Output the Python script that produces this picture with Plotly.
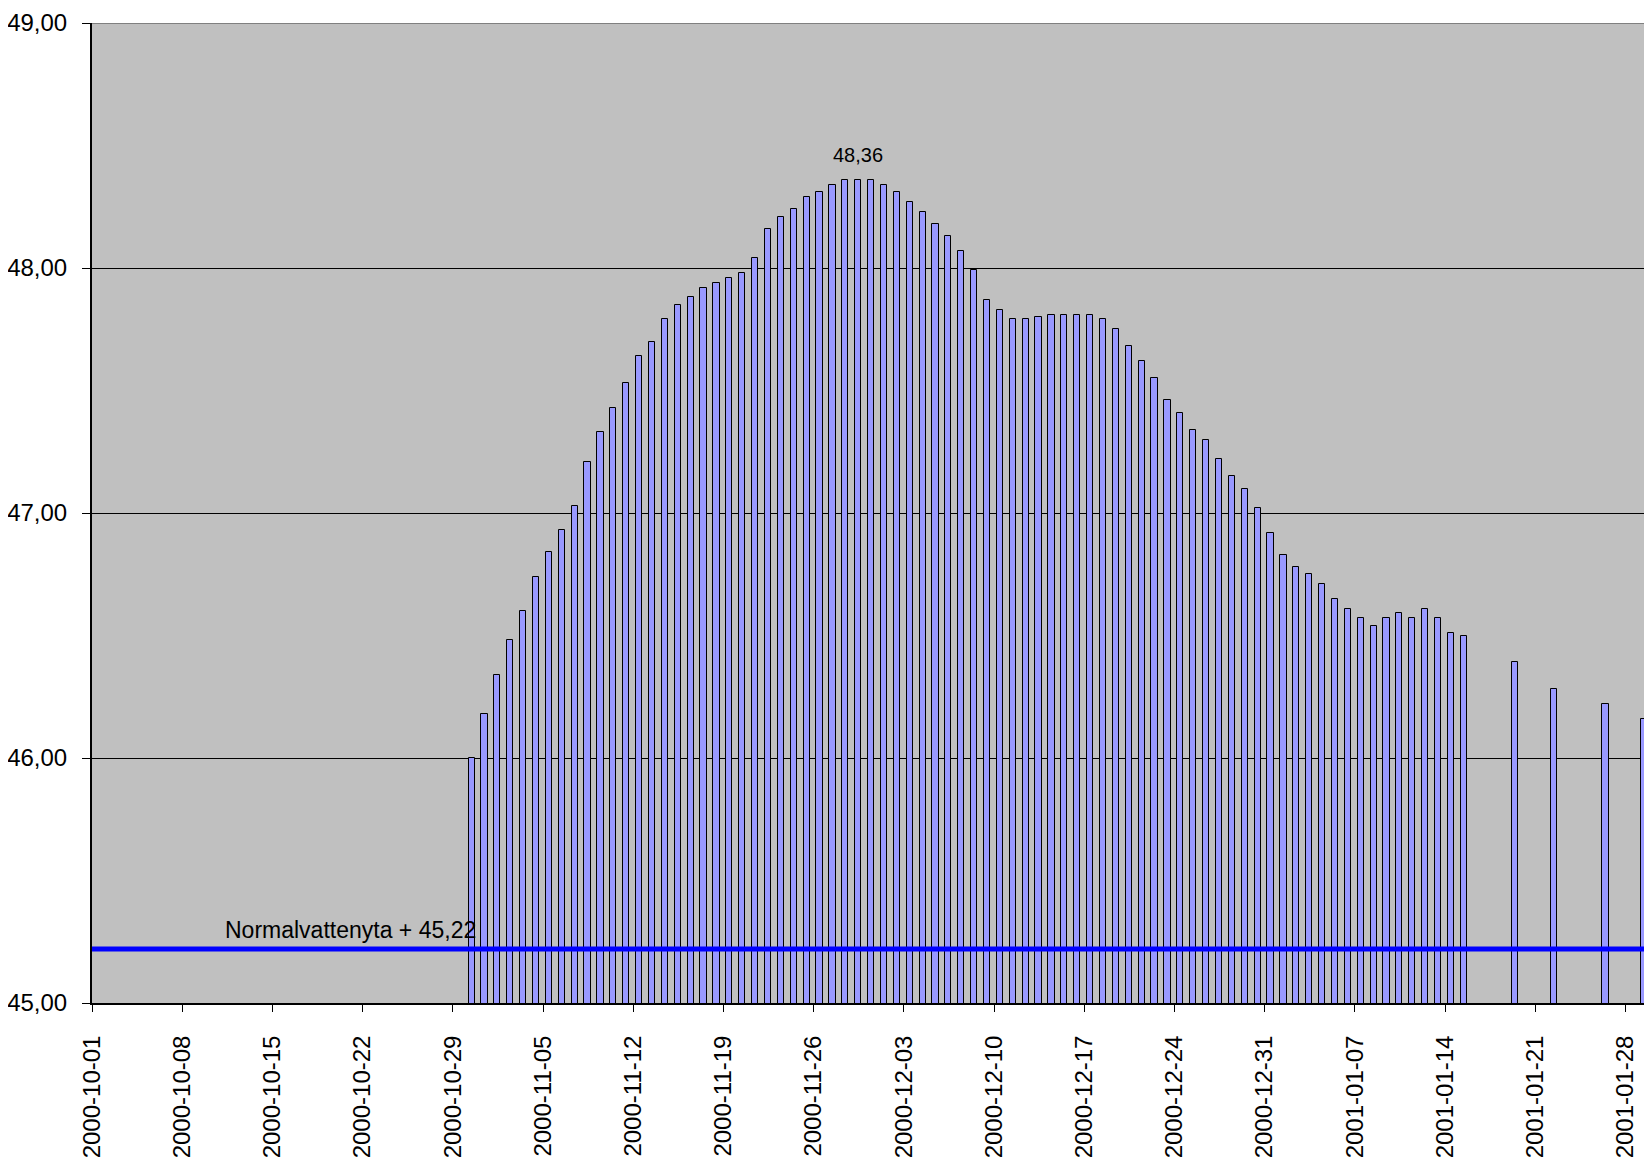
import plotly.graph_objects as go
import pandas as pd

# ---- data -----------------------------------------------------------------
DATES = [
    "2000-10-30", "2000-10-31",
    "2000-11-01", "2000-11-02", "2000-11-03", "2000-11-04", "2000-11-05",
    "2000-11-06", "2000-11-07", "2000-11-08", "2000-11-09", "2000-11-10",
    "2000-11-11", "2000-11-12", "2000-11-13", "2000-11-14", "2000-11-15",
    "2000-11-16", "2000-11-17", "2000-11-18", "2000-11-19", "2000-11-20",
    "2000-11-21", "2000-11-22", "2000-11-23", "2000-11-24", "2000-11-25",
    "2000-11-26", "2000-11-27", "2000-11-28", "2000-11-29", "2000-11-30",
    "2000-12-01", "2000-12-02", "2000-12-03", "2000-12-04", "2000-12-05",
    "2000-12-06", "2000-12-07", "2000-12-08", "2000-12-09", "2000-12-10",
    "2000-12-11", "2000-12-12", "2000-12-13", "2000-12-14", "2000-12-15",
    "2000-12-16", "2000-12-17", "2000-12-18", "2000-12-19", "2000-12-20",
    "2000-12-21", "2000-12-22", "2000-12-23", "2000-12-24", "2000-12-25",
    "2000-12-26", "2000-12-27", "2000-12-28", "2000-12-29", "2000-12-30",
    "2000-12-31",
    "2001-01-01", "2001-01-02", "2001-01-03", "2001-01-04", "2001-01-05",
    "2001-01-06", "2001-01-07", "2001-01-08", "2001-01-09", "2001-01-10",
    "2001-01-11", "2001-01-12", "2001-01-13", "2001-01-14", "2001-01-15",
    "2001-01-19", "2001-01-22", "2001-01-26", "2001-01-29",
]

LEVELS = [
    46.00, 46.18,
    46.34, 46.48, 46.60, 46.74, 46.84,
    46.93, 47.03, 47.21, 47.33, 47.43,
    47.53, 47.64, 47.70, 47.79, 47.85,
    47.88, 47.92, 47.94, 47.96, 47.98,
    48.04, 48.16, 48.21, 48.24, 48.29,
    48.31, 48.34, 48.36, 48.36, 48.36,
    48.34, 48.31, 48.27, 48.23, 48.18,
    48.13, 48.07, 47.99, 47.87, 47.83,
    47.79, 47.79, 47.80, 47.81, 47.81,
    47.81, 47.81, 47.79, 47.75, 47.68,
    47.62, 47.55, 47.46, 47.41, 47.34,
    47.30, 47.22, 47.15, 47.10, 47.02,
    46.92,
    46.83, 46.78, 46.75, 46.71, 46.65,
    46.61, 46.57, 46.54, 46.57, 46.59,
    46.57, 46.61, 46.57, 46.51, 46.50,
    46.39, 46.28, 46.22, 46.16,
]

TICK_DATES = [
    "2000-10-01", "2000-10-08", "2000-10-15", "2000-10-22", "2000-10-29",
    "2000-11-05", "2000-11-12", "2000-11-19", "2000-11-26", "2000-12-03",
    "2000-12-10", "2000-12-17", "2000-12-24", "2000-12-31", "2001-01-07",
    "2001-01-14", "2001-01-21", "2001-01-28",
]

Y_TICKS = [45, 46, 47, 48, 49]
Y_RANGE = [45, 49]
X_START = "2000-09-30 13:00"
X_END = "2001-01-29 14:30"

NORMAL_LEVEL = 45.22
NORMAL_LABEL = "Normalvattenyta + 45,22"
PEAK_DATE = "2000-11-29"
PEAK_LEVEL = 48.36
PEAK_LABEL = "48,36"

# ---- figure ---------------------------------------------------------------
DAY_MS = 86400000
tick_positions = [pd.Timestamp(d) - pd.Timedelta(hours=11) for d in TICK_DATES]

fig = go.Figure()
fig.add_trace(go.Bar(
    x=DATES,
    y=LEVELS,
    width=0.48 * DAY_MS,
    marker=dict(color="#9999FF", line=dict(color="#000000", width=1)),
    showlegend=False,
))

FONT = "Liberation Sans, Arial, sans-serif"

# the page body has an 8px margin, so the figure is sized to fit inside it
fig.update_layout(
    width=1644,
    height=1151,
    margin=dict(l=84, r=0, t=15, b=156, autoexpand=False),
    paper_bgcolor="#FFFFFF",
    plot_bgcolor="#C0C0C0",
    separators=",.",
    font=dict(family=FONT, size=23, color="#000000"),
    bargap=0,
    xaxis=dict(
        type="date",
        range=[X_START, X_END],
        tickmode="array",
        tickvals=tick_positions,
        ticktext=TICK_DATES,
        tickangle=-90,
        ticks="outside",
        ticklen=7,
        tickwidth=1,
        tickcolor="#000000",
        showgrid=False,
        showline=True,
        linecolor="#000000",
        linewidth=2,
        zeroline=False,
        automargin=False,
        tickfont=dict(family=FONT, size=24, color="#000000"),
        ticklabelstandoff=14,
    ),
    yaxis=dict(
        range=Y_RANGE,
        tickmode="array",
        tickvals=Y_TICKS,
        tickformat=".2f",
        ticks="outside",
        ticklen=8,
        tickwidth=1,
        tickcolor="#000000",
        showgrid=True,
        gridcolor="#000000",
        gridwidth=1,
        showline=True,
        linecolor="#000000",
        linewidth=2,
        zeroline=False,
        automargin=False,
        tickfont=dict(family=FONT, size=24, color="#000000"),
        ticklabelstandoff=10,
    ),
)

# top border of plot area (grey, like the reference)
fig.add_shape(type="line", xref="paper", x0=0, x1=1, yref="y",
              y0=Y_RANGE[1], y1=Y_RANGE[1],
              line=dict(color="#808080", width=2), layer="above")

# normal water level line
fig.add_shape(type="line", xref="paper", x0=0, x1=1, yref="y",
              y0=NORMAL_LEVEL, y1=NORMAL_LEVEL,
              line=dict(color="#0000FF", width=5), layer="above")

fig.add_annotation(
    xref="paper", x=0.084, yref="y", y=NORMAL_LEVEL,
    text=NORMAL_LABEL, showarrow=False,
    xanchor="left", yanchor="bottom", yshift=4,
    font=dict(family=FONT, size=23, color="#000000"),
)

fig.add_annotation(
    xref="x", x=PEAK_DATE, yref="y", y=PEAK_LEVEL,
    text=PEAK_LABEL, showarrow=False,
    xanchor="center", yanchor="bottom", yshift=12,
    font=dict(family=FONT, size=20, color="#000000"),
)

fig.write_html("out.html")
